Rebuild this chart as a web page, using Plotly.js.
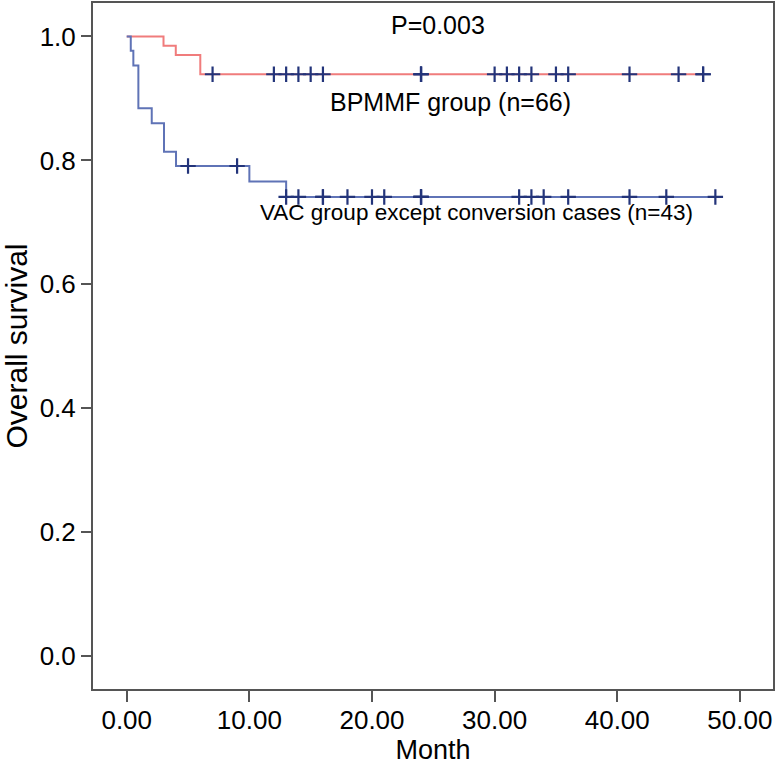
<!DOCTYPE html>
<html>
<head>
<meta charset="utf-8">
<script src="https://cdn.plot.ly/plotly-3.0.1.min.js"></script>
<style>
  html, body { margin: 0; padding: 0; background: #ffffff; }
  #chart { width: 779px; height: 768px; }
</style>
</head>
<body>
<div id="chart"></div>
<script>
// BPMMF group: event times (months) and survival after each step
const bpmmfTimes = [0, 3, 4, 6, 47];
const bpmmfSurv  = [1.0, 0.985, 0.970, 0.939, 0.939];
const bpmmfCensor = [7, 12, 13, 14, 15, 16, 24, 24, 24, 30, 31, 32, 33, 35, 36, 41, 45, 47, 47];

// VAC group except conversion cases
const vacTimes = [0, 0.33, 0.54, 0.95, 2.04, 3.04, 4.02, 10, 13, 48];
const vacSurv  = [1.0, 0.977, 0.953, 0.884, 0.860, 0.814, 0.791, 0.766, 0.741, 0.741];
const vacCensor = [5, 9, 13, 14, 16, 16, 18, 20, 21, 24, 24, 24, 32, 33, 34, 36, 41, 44, 48];

const xTicks = [0, 10, 20, 30, 40, 50];
const yTicks = [0.0, 0.2, 0.4, 0.6, 0.8, 1.0];

const pValueText = 'P=0.003';
const bpmmfLabel = 'BPMMF group (n=66)';
const vacLabel = 'VAC group except conversion cases (n=43)';

function stepAt(times, surv, t) {
  let v = surv[0];
  for (let i = 0; i < times.length; i++) {
    if (times[i] <= t) v = surv[i];
  }
  return v;
}

const redLine = '#f07c7c';
const blueLine = '#5f73b6';
const censorColor = '#23347a';
const FONT = 'Liberation Sans, Arial, Helvetica, sans-serif';

const traces = [
  {
    x: bpmmfTimes, y: bpmmfSurv, type: 'scatter', mode: 'lines',
    line: { shape: 'hv', color: redLine, width: 2 }, hoverinfo: 'skip'
  },
  {
    x: vacTimes, y: vacSurv, type: 'scatter', mode: 'lines',
    line: { shape: 'hv', color: blueLine, width: 2 }, hoverinfo: 'skip'
  },
  {
    x: bpmmfCensor, y: bpmmfCensor.map(t => stepAt(bpmmfTimes, bpmmfSurv, t)),
    type: 'scatter', mode: 'markers',
    marker: { symbol: 'cross-thin', size: 11, line: { color: censorColor, width: 2.2 } },
    hoverinfo: 'skip'
  },
  {
    x: vacCensor, y: vacCensor.map(t => stepAt(vacTimes, vacSurv, t)),
    type: 'scatter', mode: 'markers',
    marker: { symbol: 'cross-thin', size: 11, line: { color: censorColor, width: 2.2 } },
    hoverinfo: 'skip'
  }
];

const layout = {
  width: 779, height: 768,
  margin: { l: 93, r: 6, t: 3, b: 79 },
  paper_bgcolor: '#ffffff', plot_bgcolor: '#ffffff',
  showlegend: false,
  font: { family: FONT, color: '#000000', size: 26 },
  xaxis: {
    range: [-2.75, 52.7],
    tickvals: xTicks, ticktext: xTicks.map(v => v.toFixed(2)),
    ticks: 'outside', ticklen: 11, tickwidth: 2, tickcolor: '#555555',
    ticklabelstandoff: -4,
    showline: true, linecolor: '#555555', linewidth: 2, mirror: true,
    showgrid: false, zeroline: false,
    tickfont: { family: FONT, size: 26, color: '#000000' },
    title: { text: 'Month', font: { family: FONT, size: 27, color: '#000000' }, standoff: 6 }
  },
  yaxis: {
    range: [-0.053, 1.054],
    tickvals: yTicks, ticktext: yTicks.map(v => v.toFixed(1)),
    ticks: 'outside', ticklen: 10, tickwidth: 2, tickcolor: '#555555',
    showline: true, linecolor: '#555555', linewidth: 2, mirror: true,
    showgrid: false, zeroline: false,
    tickfont: { family: FONT, size: 26, color: '#000000' },
    title: { text: 'Overall survival', font: { family: FONT, size: 30, color: '#000000' }, standoff: 4 }
  },
  annotations: [
    { text: pValueText, xref: 'paper', yref: 'paper', x: 0.507, y: 0.968,
      xanchor: 'center', yanchor: 'middle', showarrow: false,
      font: { family: FONT, size: 25, color: '#000000' } },
    { text: bpmmfLabel, xref: 'paper', yref: 'paper', x: 0.525, y: 0.856,
      xanchor: 'center', yanchor: 'middle', showarrow: false,
      font: { family: FONT, size: 25, color: '#000000' } },
    { text: vacLabel, xref: 'paper', yref: 'paper', x: 0.564, y: 0.694,
      xanchor: 'center', yanchor: 'middle', showarrow: false,
      font: { family: FONT, size: 22.5, color: '#000000' } }
  ]
};

Plotly.newPlot('chart', traces, layout, { displayModeBar: false, staticPlot: true });
</script>
</body>
</html>
